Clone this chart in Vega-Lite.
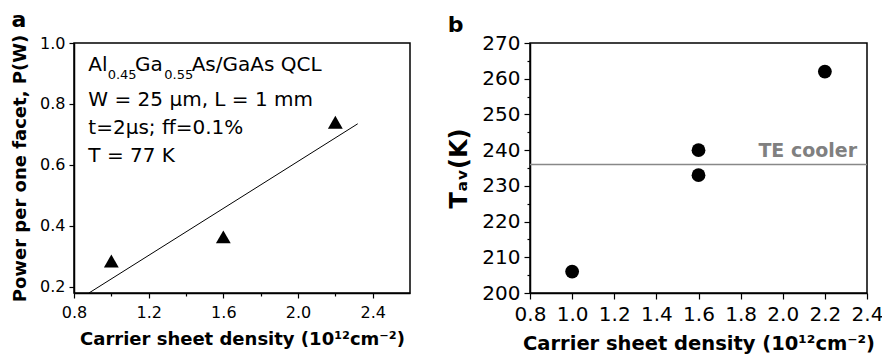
{
  "$schema": "https://vega.github.io/schema/vega-lite/v6.json",
  "padding": {"left": 10, "top": 8, "right": 0, "bottom": 0},
  "spacing": 36,
  "config": {
    "font": "DejaVu Sans",
    "view": {"stroke": "black", "strokeWidth": 1.5},
    "axis": {"domainColor": "black", "domainWidth": 1.5, "tickColor": "black", "tickWidth": 1.2, "labelColor": "black", "titleColor": "black", "grid": false, "labelFont": "DejaVu Sans", "titleFont": "DejaVu Sans", "titleFontWeight": "bold", "labelFlush": false, "labelOverlap": false},
    "title": {"font": "DejaVu Sans", "fontWeight": "bold", "anchor": "start", "frame": "bounds", "color": "black"}
  },
  "datasets": {
    "powerA": [
      {"n": 1.0, "p": 0.285},
      {"n": 1.6, "p": 0.364},
      {"n": 2.2, "p": 0.74}
    ],
    "fitA": [
      {"n": 0.88, "p": 0.18},
      {"n": 2.32, "p": 0.735}
    ],
    "notesA": [
      {"n": 0.877, "p": 0.909, "label": "Al"},
      {"n": 1.127, "p": 0.909, "label": "Ga"},
      {"n": 1.4305, "p": 0.909, "label": "As/GaAs QCL"},
      {"n": 0.877, "p": 0.7925, "label": "W = 25 μm,  L = 1 mm"},
      {"n": 0.877, "p": 0.7016, "label": "t=2μs; ff=0.1%"},
      {"n": 0.877, "p": 0.6098, "label": "T = 77 K"}
    ],
    "subsA": [
      {"n": 0.9805, "p": 0.882, "label": "0.45"},
      {"n": 1.2837, "p": 0.882, "label": "0.55"}
    ],
    "tempB": [
      {"n": 1.0, "T": 206},
      {"n": 1.6, "T": 240},
      {"n": 1.6, "T": 233},
      {"n": 2.2, "T": 262}
    ],
    "coolerLineB": [
      {"T": 236}
    ],
    "coolerTextB": [
      {"n": 2.353, "T": 238.1, "label": "TE cooler"}
    ]
  },
  "hconcat": [
    {
      "width": 336,
      "height": 250,
      "title": {"text": "a", "fontSize": 22, "offset": -1},
      "layer": [
        {
          "data": {"name": "fitA"},
          "mark": {"type": "line", "color": "black", "strokeWidth": 1},
          "encoding": {
            "x": {"field": "n", "type": "quantitative", "scale": {"domain": [0.8, 2.6], "nice": false, "zero": false},
              "title": "Carrier sheet density (10¹²cm⁻²)",
              "axis": {"values": [0.8, 1.0, 1.2, 1.4, 1.6, 1.8, 2.0, 2.2, 2.4],
                "labelExpr": "round(datum.value*10)%4==0 ? format(datum.value,'.1f') : ''",
                "tickSize": {"condition": {"test": "round(datum.value*10)%4!=0", "value": 3}, "value": 5},
                "labelOverlap": false, "labelFlush": false,
                "labelPadding": 6, "labelFontSize": 16, "titleFontSize": 18, "titlePadding": 10}},
            "y": {"field": "p", "type": "quantitative", "scale": {"domain": [0.18, 1.0], "nice": false, "zero": false},
              "title": "Power per one facet,  P(W)",
              "axis": {"values": [0.2, 0.3, 0.4, 0.5, 0.6, 0.7, 0.8, 0.9, 1.0],
                "labelExpr": "round(datum.value*10)%2==0 ? format(datum.value,'.1f') : ''",
                "tickSize": {"condition": {"test": "round(datum.value*10)%2!=0", "value": 3}, "value": 5},
                "labelOverlap": false, "labelFlush": false,
                "labelPadding": 4, "labelFontSize": 16, "titleFontSize": 18, "titlePadding": 10}}
          }
        },
        {
          "data": {"name": "powerA"},
          "mark": {"type": "point", "shape": "triangle-up", "filled": true, "color": "black", "opacity": 1, "size": 220},
          "encoding": {
            "x": {"field": "n", "type": "quantitative"},
            "y": {"field": "p", "type": "quantitative"}
          }
        },
        {
          "data": {"name": "notesA"},
          "mark": {"type": "text", "align": "left", "baseline": "alphabetic", "fontSize": 20, "color": "black"},
          "encoding": {
            "x": {"field": "n", "type": "quantitative"},
            "y": {"field": "p", "type": "quantitative"},
            "text": {"field": "label"}
          }
        },
        {
          "data": {"name": "subsA"},
          "mark": {"type": "text", "align": "left", "baseline": "alphabetic", "fontSize": 13, "color": "black"},
          "encoding": {
            "x": {"field": "n", "type": "quantitative"},
            "y": {"field": "p", "type": "quantitative"},
            "text": {"field": "label"}
          }
        }
      ]
    },
    {
      "width": 337,
      "height": 250,
      "title": {"text": "b", "fontSize": 22, "offset": -4},
      "resolve": {"axis": {"y": "independent"}},
      "layer": [
        {
          "data": {"name": "tempB"},
          "mark": {"type": "point", "shape": "circle", "filled": true, "color": "black", "opacity": 1, "size": 190},
          "encoding": {
            "x": {"field": "n", "type": "quantitative", "scale": {"domain": [0.8, 2.4], "nice": false, "zero": false},
              "title": "Carrier sheet density (10¹²cm⁻²)",
              "axis": {"values": [0.8, 0.9, 1.0, 1.1, 1.2, 1.3, 1.4, 1.5, 1.6, 1.7, 1.8, 1.9, 2.0, 2.1, 2.2, 2.3, 2.4],
                "labelExpr": "round(datum.value*10)%2==0 ? format(datum.value,'.1f') : ''",
                "tickSize": {"condition": {"test": "round(datum.value*10)%2!=0", "value": 3}, "value": 6},
                "labelOverlap": false, "labelFlush": false,
                "labelPadding": 5, "labelFontSize": 20, "titleFontSize": 19.5, "titlePadding": 10}},
            "y": {"field": "T", "type": "quantitative", "scale": {"domain": [200, 270], "nice": false, "zero": false},
              "title": "Tₐᵥ(K)",
              "axis": {"orient": "left", "values": [200, 210, 220, 230, 240, 250, 260, 270],
                "format": "d", "tickSize": 6,
                "labelOverlap": false, "labelFlush": false,
                "labelPadding": 4, "labelFontSize": 20, "titleFontSize": 24, "titlePadding": 10}}
          }
        },
        {
          "data": {"name": "coolerLineB"},
          "mark": {"type": "rule", "color": "#888888", "strokeWidth": 1.6},
          "encoding": {
            "y": {"field": "T", "type": "quantitative",
              "axis": {"orient": "left", "values": [205, 215, 225, 235, 245, 255, 265], "labels": false, "tickSize": 3, "domain": false, "title": null}}
          }
        },
        {
          "data": {"name": "coolerTextB"},
          "mark": {"type": "text", "align": "right", "baseline": "alphabetic", "fontSize": 19, "fontWeight": "bold", "color": "#808080"},
          "encoding": {
            "x": {"field": "n", "type": "quantitative"},
            "y": {"field": "T", "type": "quantitative", "axis": null},
            "text": {"field": "label"}
          }
        }
      ]
    }
  ]
}
